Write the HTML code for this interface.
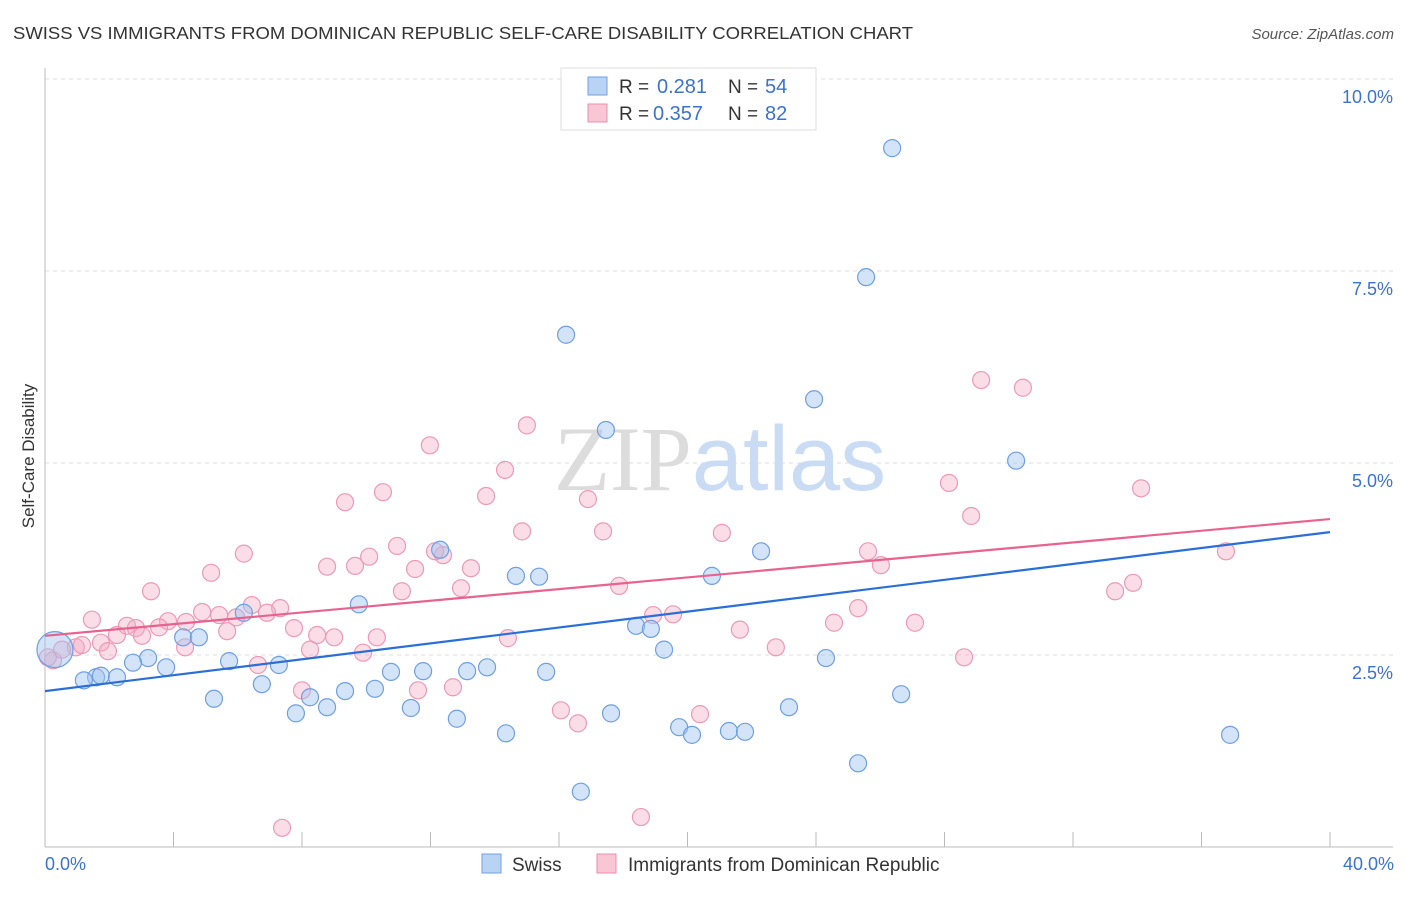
<!DOCTYPE html>
<html><head><meta charset="utf-8"><style>
body{margin:0;background:#fff;font-family:"Liberation Sans",sans-serif;}
svg text{font-family:"Liberation Sans",sans-serif;}
</style></head><body>
<svg id="chart" width="1406" height="892" xmlns="http://www.w3.org/2000/svg">
<text x="13" y="39" font-size="17.5" fill="#333" textLength="900" lengthAdjust="spacingAndGlyphs">SWISS VS IMMIGRANTS FROM DOMINICAN REPUBLIC SELF-CARE DISABILITY CORRELATION CHART</text>
<text x="1394" y="39" font-size="15" fill="#555" font-style="italic" text-anchor="end">Source: ZipAtlas.com</text>
<g id="grid"></g>
<text x="720" y="490" font-size="92" text-anchor="middle"><tspan fill="#dcdcdc" font-family="Liberation Serif">ZIP</tspan><tspan fill="#c9dcf3">atlas</tspan></text>
<g id="axes"></g>
<g id="pts"></g>
<g id="trends"></g>
<text transform="translate(34,456) rotate(-90)" font-size="17" fill="#333" text-anchor="middle">Self-Care Disability</text>
<text x="45" y="870" font-size="18" fill="#3b73c9">0.0%</text>
<text x="1394" y="870" font-size="18" fill="#3b73c9" text-anchor="end">40.0%</text>
<g>
<rect x="561" y="68" width="255" height="62" fill="#fff" stroke="#ddd"/>
<rect x="588" y="77" width="19" height="18" fill="#b9d3f5" stroke="#6f9fe0"/>
<rect x="588" y="104" width="19" height="18" fill="#f9c6d5" stroke="#eb8fae"/>
<text x="619" y="93" font-size="19" fill="#333">R =</text>
<text x="657" y="93" font-size="20" fill="#3b73c9">0.281</text>
<text x="728" y="93" font-size="19" fill="#333">N =</text>
<text x="765" y="93" font-size="20" fill="#3b73c9">54</text>
<text x="619" y="120" font-size="19" fill="#333">R =</text>
<text x="653" y="120" font-size="20" fill="#3b73c9">0.357</text>
<text x="728" y="120" font-size="19" fill="#333">N =</text>
<text x="765" y="120" font-size="20" fill="#3b73c9">82</text>
</g>
<g>
<rect x="482" y="854" width="19" height="19" fill="#b9d3f5" stroke="#6f9fe0"/>
<text x="512" y="871" font-size="19" fill="#333">Swiss</text>
<rect x="597" y="854" width="19" height="19" fill="#f9c6d5" stroke="#eb8fae"/>
<text x="628" y="871" font-size="19" fill="#333">Immigrants from Dominican Republic</text>
</g>
</svg>
<script>
const yTicks=[2.5,5.0,7.5,10.0];
const yTickLabels=["2.5%","5.0%","7.5%","10.0%"];
const xTicks=[0,4,8,12,16,20,24,28,32,36,40];
const swissX=[26.37,25.56,16.22,23.94,17.46,30.23,22.29,14.66,15.38,20.76,9.77,6.19,18.40,18.86,4.30,4.79,19.27,24.31,3.21,2.74,3.77,5.73,7.28,10.77,11.77,13.14,13.76,15.60,1.59,1.21,1.74,2.24,6.75,9.34,10.27,8.25,5.26,26.65,7.81,8.78,11.39,12.82,17.62,23.16,14.35,19.74,20.14,21.29,21.79,36.89,25.31,16.68,12.30,0.31];
const swissY=[9.10,7.42,6.67,5.83,5.43,5.03,3.85,3.53,3.52,3.53,3.16,3.05,2.88,2.84,2.73,2.73,2.57,2.46,2.46,2.40,2.34,2.42,2.37,2.28,2.29,2.29,2.34,2.28,2.21,2.17,2.23,2.21,2.12,2.03,2.06,1.95,1.93,1.99,1.74,1.82,1.81,1.67,1.74,1.82,1.48,1.56,1.46,1.51,1.50,1.46,1.09,0.72,3.87,2.57];
const domX=[29.14,30.44,15.00,11.98,14.32,28.14,9.34,10.52,13.73,34.12,16.90,28.83,14.85,17.37,21.07,6.19,25.62,36.76,10.96,10.09,12.39,12.14,8.78,9.65,11.52,13.26,5.17,26.02,17.87,33.87,12.95,11.11,3.30,33.31,6.44,7.32,6.91,4.89,5.42,5.95,25.31,18.93,19.55,1.46,3.83,4.39,3.55,2.55,2.83,7.75,8.47,9.00,5.67,27.08,24.56,21.63,2.24,10.33,3.02,14.41,4.36,1.74,0.96,1.15,8.25,9.90,1.96,22.75,28.61,0.25,6.63,8.00,11.61,12.70,16.06,16.59,20.39,7.38,18.55,0.09,0.53];
const domY=[6.08,5.98,5.49,5.23,4.91,4.74,4.49,4.62,4.57,4.67,4.53,4.31,4.11,4.11,4.09,3.82,3.85,3.85,3.92,3.78,3.80,3.85,3.65,3.66,3.62,3.63,3.57,3.67,3.40,3.44,3.37,3.33,3.33,3.33,3.15,3.11,3.05,3.06,3.02,2.99,3.11,3.02,3.03,2.96,2.94,2.93,2.86,2.88,2.85,2.85,2.76,2.73,2.81,2.92,2.92,2.83,2.76,2.73,2.75,2.72,2.60,2.66,2.60,2.63,2.57,2.53,2.55,2.60,2.47,2.43,2.37,2.04,2.04,2.08,1.78,1.61,1.73,0.25,0.39,2.47,2.57];
const swissTrend=[2.03,4.10];
const domTrend=[2.75,4.27];
const NS="http://www.w3.org/2000/svg";
const X=v=>45+v*32.125, Y=v=>847-v*76.8;
function mk(t,a,p){const e=document.createElementNS(NS,t);for(const k in a)e.setAttribute(k,a[k]);p.appendChild(e);return e;}
const grid=document.getElementById('grid');
yTicks.forEach((t,i)=>{
  const l=mk('line',{x1:45,x2:1393,y1:Y(t),y2:Y(t),stroke:'#ddd','stroke-dasharray':'4,4'},grid);
  
  
  const tx=mk('text',{x:1393,y:Y(t)+24,'font-size':18,fill:'#3b73c9','text-anchor':'end'},grid);
  tx.textContent=yTickLabels[i];
  
  
});
const axes=document.getElementById('axes');
const ya=mk('line',{x1:45,x2:45,y1:68,y2:847,stroke:'#bbb'},axes);


const xa=mk('line',{x1:45,x2:1393,y1:847,y2:847,stroke:'#bbb'},axes);


xTicks.forEach(t=>{
  const l=mk('line',{x1:X(t),x2:X(t),y1:832,y2:847,stroke:'#bbb'},axes);
  
  
});
const pts=document.getElementById('pts');
domX.forEach((x,i)=>{
  const c=mk('circle',{cx:X(x),cy:Y(domY[i]),r:8.5,fill:'rgba(245,170,195,0.4)',stroke:'#eb9ab5','stroke-width':1.2},pts);
  
  
});
swissX.forEach((x,i)=>{
  const big=i===swissX.length-1;
  const c=mk('circle',{cx:X(x),cy:Y(swissY[i]),r:big?18:8.5,fill:'rgba(160,195,240,0.45)',stroke:'#6f9fe0','stroke-width':1.2},pts);
  
  
});
const tr=document.getElementById('trends');
const a=mk('line',{x1:X(0),x2:X(40),y1:Y(swissTrend[0]),y2:Y(swissTrend[1]),stroke:'#2b6fd6','stroke-width':2.2},tr);


const b=mk('line',{x1:X(0),x2:X(40),y1:Y(domTrend[0]),y2:Y(domTrend[1]),stroke:'#e8628e','stroke-width':2.2},tr);


</script>
</body></html>
